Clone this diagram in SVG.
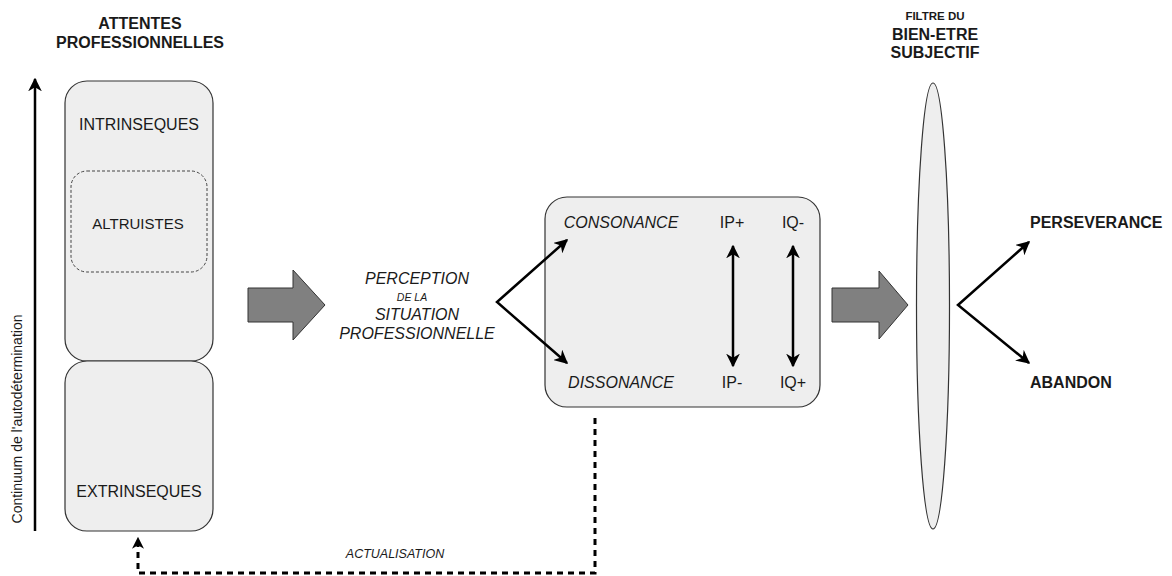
<svg xmlns="http://www.w3.org/2000/svg" width="1172" height="576" viewBox="0 0 1172 576">
  <defs>
    <style>
      text { font-family: "Liberation Sans", Arial, sans-serif; fill: #1a1a1a; text-anchor: middle; dominant-baseline: central; }
      .box { fill: #eeeeee; stroke: #333333; stroke-width: 1.2; }
      .dash-box { fill: none; stroke: #444444; stroke-width: 1; stroke-dasharray: 3 2; }
      .block { fill: #808080; stroke: #333333; stroke-width: 1; }
      .lbl { font-size: 16px; }
      .it { font-style: italic; }
      .bold { font-weight: bold; }
      .start { text-anchor: start; }
      .edge { fill: none; stroke: #000000; stroke-width: 2.5; }
      .dashed { fill: none; stroke: #000000; stroke-width: 3; stroke-dasharray: 6 5; }
    </style>
    <marker id="ah" viewBox="0 0 10 10" refX="9" refY="5" markerWidth="5.5" markerHeight="5.5" orient="auto-start-reverse" markerUnits="strokeWidth">
      <path d="M0,0 L10,5 L0,10 L3,5 Z" fill="#000000"/>
    </marker>
    <marker id="ah-small" viewBox="0 0 10 10" refX="9" refY="5" markerWidth="4" markerHeight="4" orient="auto" markerUnits="strokeWidth">
      <path d="M0,0 L10,5 L0,10 L3,5 Z" fill="#000000"/>
    </marker>
  </defs>

  <rect width="1172" height="576" fill="#ffffff"/>

  <!-- Expectations column -->
  <g id="title-attentes">
    <text x="140" y="23" class="lbl bold">ATTENTES</text>
    <text x="140" y="42" class="lbl bold">PROFESSIONNELLES</text>
  </g>
  <g id="continuum">
    <text x="17" y="419" font-size="14" transform="rotate(-90 17 419)">Continuum de l'autodétermination</text>
  </g>
  <g id="intrinseques">
    <rect x="65" y="81" width="148" height="280" rx="22" class="box"/>
    <text x="139" y="124" class="lbl">INTRINSEQUES</text>
  </g>
  <g id="altruistes">
    <rect x="71" y="171" width="136" height="101" rx="16" class="dash-box"/>
    <text x="138" y="223" font-size="15">ALTRUISTES</text>
  </g>
  <g id="extrinseques">
    <rect x="65" y="361" width="148" height="170" rx="22" class="box"/>
    <text x="139" y="491" class="lbl">EXTRINSEQUES</text>
  </g>

  <!-- Perception -->
  <g id="arrow-block-1">
    <path d="M248,288 H293 V270 L325,305 L293,340 V322 H248 Z" class="block"/>
  </g>
  <g id="perception">
    <text x="417" y="278" class="lbl it">PERCEPTION</text>
    <text x="412" y="297" font-size="10.5" class="it">DE LA</text>
    <text x="417" y="314" class="lbl it">SITUATION</text>
    <text x="417" y="333" class="lbl it">PROFESSIONNELLE</text>
  </g>

  <!-- Consonance / dissonance -->
  <g id="situation">
    <rect x="545" y="197" width="275" height="210" rx="22" class="box"/>
    <text x="621" y="222" class="lbl it">CONSONANCE</text>
    <text x="621" y="382" class="lbl it">DISSONANCE</text>
    <text x="732" y="222" class="lbl">IP+</text>
    <text x="793" y="222" class="lbl">IQ-</text>
    <text x="732" y="382" class="lbl">IP-</text>
    <text x="793" y="382" class="lbl">IQ+</text>
  </g>

  <g id="arrow-block-2">
    <path d="M832,288 H879 V271 L908,305 L879,339 V322 H832 Z" class="block"/>
  </g>

  <!-- Filter -->
  <g id="filtre-title">
    <text x="935" y="16" font-size="11.5" class="bold">FILTRE DU</text>
    <text x="935" y="34" class="lbl bold">BIEN-ETRE</text>
    <text x="935" y="52" class="lbl bold">SUBJECTIF</text>
  </g>
  <g id="filtre">
    <ellipse cx="933" cy="306" rx="16.5" ry="223" class="box"/>
  </g>

  <g id="outcomes">
    <text x="1030" y="222" class="lbl bold start">PERSEVERANCE</text>
    <text x="1030" y="382" class="lbl bold start">ABANDON</text>
  </g>

  <!-- Connectors -->
  <g id="connectors">
    <line x1="35" y1="531" x2="35" y2="79" class="edge" marker-end="url(#ah)"/>
    <polyline points="567,240 497,302 567,363" class="edge" marker-start="url(#ah)" marker-end="url(#ah)"/>
    <line x1="733" y1="246" x2="733" y2="366" class="edge" marker-start="url(#ah)" marker-end="url(#ah)"/>
    <line x1="793" y1="246" x2="793" y2="366" class="edge" marker-start="url(#ah)" marker-end="url(#ah)"/>
    <polyline points="1029,242 958,305 1029,363" class="edge" marker-start="url(#ah)" marker-end="url(#ah)"/>
    <polyline points="595,418 595,573 138,573 138,538" class="dashed" marker-end="url(#ah-small)"/>
    <text x="395" y="554" font-size="12.5" class="it">ACTUALISATION</text>
  </g>
</svg>
